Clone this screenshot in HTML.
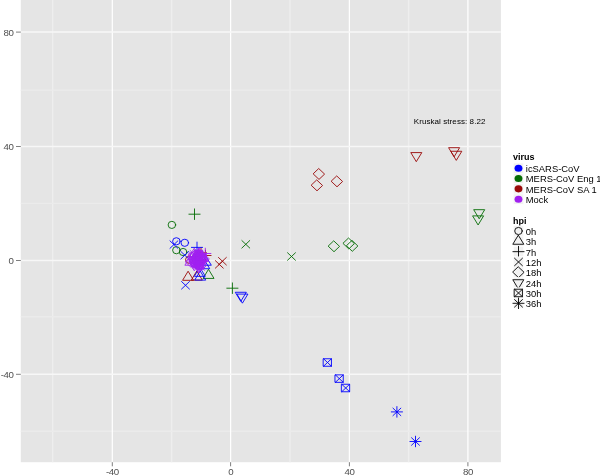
<!DOCTYPE html>
<html><head><meta charset="utf-8"><style>
html,body{margin:0;padding:0;background:#fff;width:600px;height:476px;overflow:hidden}
svg{display:block;filter:blur(0.3px)}
text{font-family:"Liberation Sans",sans-serif}
.ax{font-size:9.7px;fill:#505050;letter-spacing:-0.5px}
.lt{font-size:9px;font-weight:bold;fill:#000}
.lx{font-size:9.9px;fill:#000}
.ks{font-size:8px;fill:#000}
</style></head><body>
<svg width="600" height="476" viewBox="0 0 600 476">
<rect x="20.8" y="0" width="480.1" height="462.2" fill="#E5E5E5"/>
<line x1="52.70" y1="0" x2="52.70" y2="462.2" stroke="#EEEEEE" stroke-width="1.4"/>
<line x1="171.60" y1="0" x2="171.60" y2="462.2" stroke="#EEEEEE" stroke-width="1.4"/>
<line x1="290.00" y1="0" x2="290.00" y2="462.2" stroke="#EEEEEE" stroke-width="1.4"/>
<line x1="408.60" y1="0" x2="408.60" y2="462.2" stroke="#EEEEEE" stroke-width="1.4"/>
<line x1="20.8" y1="90.10" x2="500.9" y2="90.10" stroke="#EBEBEB" stroke-width="1.4"/>
<line x1="20.8" y1="203.40" x2="500.9" y2="203.40" stroke="#EBEBEB" stroke-width="1.4"/>
<line x1="20.8" y1="316.70" x2="500.9" y2="316.70" stroke="#EBEBEB" stroke-width="1.4"/>
<line x1="20.8" y1="431.30" x2="500.9" y2="431.30" stroke="#EBEBEB" stroke-width="1.4"/>
<line x1="112.30" y1="0" x2="112.30" y2="462.2" stroke="#FFFFFF" stroke-width="1.25"/>
<line x1="230.60" y1="0" x2="230.60" y2="462.2" stroke="#FFFFFF" stroke-width="1.25"/>
<line x1="349.40" y1="0" x2="349.40" y2="462.2" stroke="#FFFFFF" stroke-width="1.25"/>
<line x1="467.90" y1="0" x2="467.90" y2="462.2" stroke="#FFFFFF" stroke-width="1.25"/>
<line x1="20.8" y1="32.10" x2="500.9" y2="32.10" stroke="#F7F7F7" stroke-width="1.5"/>
<line x1="20.8" y1="146.50" x2="500.9" y2="146.50" stroke="#F7F7F7" stroke-width="1.5"/>
<line x1="20.8" y1="260.50" x2="500.9" y2="260.50" stroke="#F7F7F7" stroke-width="1.5"/>
<line x1="20.8" y1="374.30" x2="500.9" y2="374.30" stroke="#F7F7F7" stroke-width="1.5"/>
<ellipse cx="171.90" cy="224.90" rx="3.79" ry="3.60" stroke="#046C04" stroke-width="0.9" fill="none" stroke-linecap="round" stroke-linejoin="round"/>
<ellipse cx="176.40" cy="250.20" rx="3.79" ry="3.60" stroke="#046C04" stroke-width="0.9" fill="none" stroke-linecap="round" stroke-linejoin="round"/>
<ellipse cx="183.10" cy="252.00" rx="3.79" ry="3.60" stroke="#046C04" stroke-width="0.9" fill="none" stroke-linecap="round" stroke-linejoin="round"/>
<path d="M188.91,214.20H200.09M194.50,208.89V219.51" stroke="#046C04" stroke-width="0.9" fill="none" stroke-linecap="round" stroke-linejoin="round"/>
<path d="M226.81,288.20H237.99M232.40,282.89V293.51" stroke="#046C04" stroke-width="0.9" fill="none" stroke-linecap="round" stroke-linejoin="round"/>
<path d="M241.85,240.55L249.75,248.05M241.85,248.05L249.75,240.55" stroke="#046C04" stroke-width="0.9" fill="none" stroke-linecap="round" stroke-linejoin="round"/>
<path d="M287.55,252.75L295.45,260.25M287.55,260.25L295.45,252.75" stroke="#046C04" stroke-width="0.9" fill="none" stroke-linecap="round" stroke-linejoin="round"/>
<polygon points="334.00,241.09 339.59,246.40 334.00,251.71 328.41,246.40" stroke="#046C04" stroke-width="0.9" fill="none" stroke-linecap="round" stroke-linejoin="round"/>
<polygon points="348.80,238.29 354.39,243.60 348.80,248.91 343.21,243.60" stroke="#046C04" stroke-width="0.9" fill="none" stroke-linecap="round" stroke-linejoin="round"/>
<polygon points="352.30,240.69 357.89,246.00 352.30,251.31 346.71,246.00" stroke="#046C04" stroke-width="0.9" fill="none" stroke-linecap="round" stroke-linejoin="round"/>
<polygon points="479.40,218.44 484.72,209.68 474.08,209.68" stroke="#046C04" stroke-width="0.9" fill="none" stroke-linecap="round" stroke-linejoin="round"/>
<polygon points="478.30,224.64 483.62,215.88 472.98,215.88" stroke="#046C04" stroke-width="0.9" fill="none" stroke-linecap="round" stroke-linejoin="round"/>
<polygon points="208.70,269.66 214.02,278.42 203.38,278.42" stroke="#046C04" stroke-width="0.9" fill="none" stroke-linecap="round" stroke-linejoin="round"/>
<polygon points="416.50,161.34 421.82,152.58 411.18,152.58" stroke="#9A0808" stroke-width="0.9" fill="none" stroke-linecap="round" stroke-linejoin="round"/>
<polygon points="454.30,156.44 459.62,147.68 448.98,147.68" stroke="#9A0808" stroke-width="0.9" fill="none" stroke-linecap="round" stroke-linejoin="round"/>
<polygon points="456.50,160.04 461.82,151.28 451.18,151.28" stroke="#9A0808" stroke-width="0.9" fill="none" stroke-linecap="round" stroke-linejoin="round"/>
<polygon points="319.00,168.79 324.59,174.10 319.00,179.41 313.41,174.10" stroke="#9A0808" stroke-width="0.9" fill="none" stroke-linecap="round" stroke-linejoin="round"/>
<polygon points="317.00,180.19 322.59,185.50 317.00,190.81 311.41,185.50" stroke="#9A0808" stroke-width="0.9" fill="none" stroke-linecap="round" stroke-linejoin="round"/>
<polygon points="337.00,176.19 342.59,181.50 337.00,186.81 331.41,181.50" stroke="#9A0808" stroke-width="0.9" fill="none" stroke-linecap="round" stroke-linejoin="round"/>
<path d="M218.45,257.45L226.35,264.95M218.45,264.95L226.35,257.45" stroke="#9A0808" stroke-width="0.9" fill="none" stroke-linecap="round" stroke-linejoin="round"/>
<path d="M215.35,260.65L223.25,268.15M215.35,268.15L223.25,260.65" stroke="#9A0808" stroke-width="0.9" fill="none" stroke-linecap="round" stroke-linejoin="round"/>
<polygon points="188.30,271.56 193.62,280.32 182.98,280.32" stroke="#9A0808" stroke-width="0.9" fill="none" stroke-linecap="round" stroke-linejoin="round"/>
<polygon points="197.00,271.36 202.32,280.12 191.68,280.12" stroke="#9A0808" stroke-width="0.9" fill="none" stroke-linecap="round" stroke-linejoin="round"/>
<ellipse cx="189.30" cy="259.80" rx="3.79" ry="3.60" stroke="#9A0808" stroke-width="0.9" fill="none" stroke-linecap="round" stroke-linejoin="round"/>
<path d="M195.41,252.80H206.59M201.00,247.49V258.11" stroke="#9A0808" stroke-width="0.9" fill="none" stroke-linecap="round" stroke-linejoin="round"/>
<path d="M199.91,255.50H211.09M205.50,250.19V260.81" stroke="#9A0808" stroke-width="0.9" fill="none" stroke-linecap="round" stroke-linejoin="round"/>
<ellipse cx="176.40" cy="241.30" rx="3.79" ry="3.60" stroke="#0000FF" stroke-width="0.9" fill="none" stroke-linecap="round" stroke-linejoin="round"/>
<ellipse cx="184.80" cy="242.80" rx="3.79" ry="3.60" stroke="#0000FF" stroke-width="0.9" fill="none" stroke-linecap="round" stroke-linejoin="round"/>
<path d="M169.95,240.85L177.85,248.35M169.95,248.35L177.85,240.85" stroke="#0000FF" stroke-width="0.9" fill="none" stroke-linecap="round" stroke-linejoin="round"/>
<path d="M180.85,251.45L188.75,258.95M180.85,258.95L188.75,251.45" stroke="#0000FF" stroke-width="0.9" fill="none" stroke-linecap="round" stroke-linejoin="round"/>
<path d="M181.55,281.55L189.45,289.05M181.55,289.05L189.45,281.55" stroke="#0000FF" stroke-width="0.9" fill="none" stroke-linecap="round" stroke-linejoin="round"/>
<path d="M191.41,247.40H202.59M197.00,242.09V252.71" stroke="#0000FF" stroke-width="0.9" fill="none" stroke-linecap="round" stroke-linejoin="round"/>
<polygon points="200.40,271.36 205.72,280.12 195.08,280.12" stroke="#0000FF" stroke-width="0.9" fill="none" stroke-linecap="round" stroke-linejoin="round"/>
<polygon points="200.00,267.56 205.32,276.32 194.68,276.32" stroke="#0000FF" stroke-width="0.9" fill="none" stroke-linecap="round" stroke-linejoin="round"/>
<polygon points="206.00,256.46 211.32,265.22 200.68,265.22" stroke="#0000FF" stroke-width="0.9" fill="none" stroke-linecap="round" stroke-linejoin="round"/>
<polygon points="204.40,259.96 209.72,268.72 199.08,268.72" stroke="#0000FF" stroke-width="0.9" fill="none" stroke-linecap="round" stroke-linejoin="round"/>
<polygon points="241.00,301.04 246.32,292.28 235.68,292.28" stroke="#0000FF" stroke-width="0.9" fill="none" stroke-linecap="round" stroke-linejoin="round"/>
<polygon points="242.60,302.84 247.92,294.08 237.28,294.08" stroke="#0000FF" stroke-width="0.9" fill="none" stroke-linecap="round" stroke-linejoin="round"/>
<rect x="323.55" y="358.75" width="7.90" height="7.50" stroke="#0000FF" stroke-width="0.9" fill="none" stroke-linecap="round" stroke-linejoin="round"/><path d="M323.55,358.75L331.45,366.25M323.55,366.25L331.45,358.75" stroke="#0000FF" stroke-width="0.9" fill="none" stroke-linecap="round" stroke-linejoin="round"/>
<rect x="335.35" y="374.85" width="7.90" height="7.50" stroke="#0000FF" stroke-width="0.9" fill="none" stroke-linecap="round" stroke-linejoin="round"/><path d="M335.35,374.85L343.25,382.35M335.35,382.35L343.25,374.85" stroke="#0000FF" stroke-width="0.9" fill="none" stroke-linecap="round" stroke-linejoin="round"/>
<rect x="341.75" y="384.25" width="7.90" height="7.50" stroke="#0000FF" stroke-width="0.9" fill="none" stroke-linecap="round" stroke-linejoin="round"/><path d="M341.75,384.25L349.65,391.75M341.75,391.75L349.65,384.25" stroke="#0000FF" stroke-width="0.9" fill="none" stroke-linecap="round" stroke-linejoin="round"/>
<path d="M392.95,408.15L400.85,415.65M392.95,415.65L400.85,408.15M391.31,411.90H402.49M396.90,406.59V417.21" stroke="#0000FF" stroke-width="0.9" fill="none" stroke-linecap="round" stroke-linejoin="round"/>
<path d="M411.55,437.75L419.45,445.25M411.55,445.25L419.45,437.75M409.91,441.50H421.09M415.50,436.19V446.81" stroke="#0000FF" stroke-width="0.9" fill="none" stroke-linecap="round" stroke-linejoin="round"/>
<ellipse cx="197" cy="259.8" rx="6" ry="6.5" fill="#A020F0" opacity="0.7"/>
<ellipse cx="193.44" cy="259.81" rx="3.79" ry="3.60" stroke="#A020F0" stroke-width="0.9" fill="none" stroke-linecap="round" stroke-linejoin="round"/>
<polygon points="195.23,254.67 200.55,263.42 189.91,263.42" stroke="#A020F0" stroke-width="0.9" fill="none" stroke-linecap="round" stroke-linejoin="round"/>
<path d="M193.12,254.26H204.30M198.71,248.95V259.57" stroke="#A020F0" stroke-width="0.9" fill="none" stroke-linecap="round" stroke-linejoin="round"/>
<path d="M189.78,252.47L197.68,259.97M189.78,259.97L197.68,252.47" stroke="#A020F0" stroke-width="0.9" fill="none" stroke-linecap="round" stroke-linejoin="round"/>
<polygon points="203.74,253.65 209.33,258.96 203.74,264.26 198.15,258.96" stroke="#A020F0" stroke-width="0.9" fill="none" stroke-linecap="round" stroke-linejoin="round"/>
<polygon points="201.58,264.86 206.90,256.11 196.26,256.11" stroke="#A020F0" stroke-width="0.9" fill="none" stroke-linecap="round" stroke-linejoin="round"/>
<rect x="194.94" y="251.49" width="7.90" height="7.50" stroke="#A020F0" stroke-width="0.9" fill="none" stroke-linecap="round" stroke-linejoin="round"/><path d="M194.94,251.49L202.84,259.00M194.94,259.00L202.84,251.49" stroke="#A020F0" stroke-width="0.9" fill="none" stroke-linecap="round" stroke-linejoin="round"/>
<path d="M194.88,259.82L202.78,267.32M194.88,267.32L202.78,259.82M193.25,263.57H204.42M198.83,258.26V268.88" stroke="#A020F0" stroke-width="0.9" fill="none" stroke-linecap="round" stroke-linejoin="round"/>
<ellipse cx="197.32" cy="262.10" rx="3.79" ry="3.60" stroke="#A020F0" stroke-width="0.9" fill="none" stroke-linecap="round" stroke-linejoin="round"/>
<polygon points="199.33,248.41 204.65,257.16 194.01,257.16" stroke="#A020F0" stroke-width="0.9" fill="none" stroke-linecap="round" stroke-linejoin="round"/>
<path d="M194.93,260.36H206.10M200.51,255.05V265.66" stroke="#A020F0" stroke-width="0.9" fill="none" stroke-linecap="round" stroke-linejoin="round"/>
<path d="M198.02,255.23L205.92,262.74M198.02,262.74L205.92,255.23" stroke="#A020F0" stroke-width="0.9" fill="none" stroke-linecap="round" stroke-linejoin="round"/>
<polygon points="199.98,258.39 205.56,263.69 199.98,269.00 194.39,263.69" stroke="#A020F0" stroke-width="0.9" fill="none" stroke-linecap="round" stroke-linejoin="round"/>
<polygon points="199.91,270.02 205.23,261.27 194.59,261.27" stroke="#A020F0" stroke-width="0.9" fill="none" stroke-linecap="round" stroke-linejoin="round"/>
<rect x="191.62" y="259.04" width="7.90" height="7.50" stroke="#A020F0" stroke-width="0.9" fill="none" stroke-linecap="round" stroke-linejoin="round"/><path d="M191.62,259.04L199.52,266.54M191.62,266.54L199.52,259.04" stroke="#A020F0" stroke-width="0.9" fill="none" stroke-linecap="round" stroke-linejoin="round"/>
<path d="M192.30,260.60L200.20,268.11M192.30,268.11L200.20,260.60M190.66,264.35H201.83M196.25,259.05V269.66" stroke="#A020F0" stroke-width="0.9" fill="none" stroke-linecap="round" stroke-linejoin="round"/>
<ellipse cx="192.05" cy="256.02" rx="3.79" ry="3.60" stroke="#A020F0" stroke-width="0.9" fill="none" stroke-linecap="round" stroke-linejoin="round"/>
<polygon points="203.33,252.72 208.65,261.48 198.01,261.48" stroke="#A020F0" stroke-width="0.9" fill="none" stroke-linecap="round" stroke-linejoin="round"/>
<path d="M193.14,256.99H204.31M198.72,251.69V262.30" stroke="#A020F0" stroke-width="0.9" fill="none" stroke-linecap="round" stroke-linejoin="round"/>
<path d="M193.15,254.22L201.05,261.73M193.15,261.73L201.05,254.22" stroke="#A020F0" stroke-width="0.9" fill="none" stroke-linecap="round" stroke-linejoin="round"/>
<polygon points="194.97,254.98 200.56,260.29 194.97,265.59 189.39,260.29" stroke="#A020F0" stroke-width="0.9" fill="none" stroke-linecap="round" stroke-linejoin="round"/>
<polygon points="198.15,269.82 203.47,261.07 192.83,261.07" stroke="#A020F0" stroke-width="0.9" fill="none" stroke-linecap="round" stroke-linejoin="round"/>
<rect x="195.52" y="260.52" width="7.90" height="7.50" stroke="#A020F0" stroke-width="0.9" fill="none" stroke-linecap="round" stroke-linejoin="round"/><path d="M195.52,260.52L203.42,268.03M195.52,268.03L203.42,260.52" stroke="#A020F0" stroke-width="0.9" fill="none" stroke-linecap="round" stroke-linejoin="round"/>
<path d="M195.38,251.64L203.28,259.14M195.38,259.14L203.28,251.64M193.74,255.39H204.92M199.33,250.09V260.70" stroke="#A020F0" stroke-width="0.9" fill="none" stroke-linecap="round" stroke-linejoin="round"/>
<ellipse cx="202.50" cy="260.10" rx="3.79" ry="3.60" stroke="#A020F0" stroke-width="0.9" fill="none" stroke-linecap="round" stroke-linejoin="round"/>
<polygon points="199.91,250.11 205.23,258.87 194.59,258.87" stroke="#A020F0" stroke-width="0.9" fill="none" stroke-linecap="round" stroke-linejoin="round"/>
<path d="M195.92,260.15H207.10M201.51,254.85V265.46" stroke="#A020F0" stroke-width="0.9" fill="none" stroke-linecap="round" stroke-linejoin="round"/>
<path d="M190.13,250.48L198.03,257.99M190.13,257.99L198.03,250.48" stroke="#A020F0" stroke-width="0.9" fill="none" stroke-linecap="round" stroke-linejoin="round"/>
<polygon points="195.78,249.94 201.37,255.25 195.78,260.56 190.20,255.25" stroke="#A020F0" stroke-width="0.9" fill="none" stroke-linecap="round" stroke-linejoin="round"/>
<polygon points="194.20,268.25 199.52,259.50 188.88,259.50" stroke="#A020F0" stroke-width="0.9" fill="none" stroke-linecap="round" stroke-linejoin="round"/>
<rect x="194.61" y="250.27" width="7.90" height="7.50" stroke="#A020F0" stroke-width="0.9" fill="none" stroke-linecap="round" stroke-linejoin="round"/><path d="M194.61,250.27L202.51,257.77M194.61,257.77L202.51,250.27" stroke="#A020F0" stroke-width="0.9" fill="none" stroke-linecap="round" stroke-linejoin="round"/>
<path d="M196.02,253.59L203.92,261.09M196.02,261.09L203.92,253.59M194.38,257.34H205.56M199.97,252.03V262.65" stroke="#A020F0" stroke-width="0.9" fill="none" stroke-linecap="round" stroke-linejoin="round"/>
<ellipse cx="197.07" cy="265.08" rx="3.79" ry="3.60" stroke="#A020F0" stroke-width="0.9" fill="none" stroke-linecap="round" stroke-linejoin="round"/>
<polygon points="194.41,248.56 199.73,257.31 189.09,257.31" stroke="#A020F0" stroke-width="0.9" fill="none" stroke-linecap="round" stroke-linejoin="round"/>
<path d="M192.77,253.86H203.94M198.36,248.56V259.17" stroke="#A020F0" stroke-width="0.9" fill="none" stroke-linecap="round" stroke-linejoin="round"/>
<path d="M188.93,254.48L196.83,261.98M188.93,261.98L196.83,254.48" stroke="#A020F0" stroke-width="0.9" fill="none" stroke-linecap="round" stroke-linejoin="round"/>
<polygon points="198.50,250.01 204.09,255.31 198.50,260.62 192.92,255.31" stroke="#A020F0" stroke-width="0.9" fill="none" stroke-linecap="round" stroke-linejoin="round"/>
<polygon points="194.47,270.46 199.79,261.70 189.15,261.70" stroke="#A020F0" stroke-width="0.9" fill="none" stroke-linecap="round" stroke-linejoin="round"/>
<rect x="198.44" y="254.13" width="7.90" height="7.50" stroke="#A020F0" stroke-width="0.9" fill="none" stroke-linecap="round" stroke-linejoin="round"/><path d="M198.44,254.13L206.34,261.63M198.44,261.63L206.34,254.13" stroke="#A020F0" stroke-width="0.9" fill="none" stroke-linecap="round" stroke-linejoin="round"/>
<path d="M192.51,255.78L200.41,263.29M192.51,263.29L200.41,255.78M190.88,259.53H202.05M196.46,254.23V264.84" stroke="#A020F0" stroke-width="0.9" fill="none" stroke-linecap="round" stroke-linejoin="round"/>
<path d="M199.71,253.50H210.89M205.30,248.19V258.81" stroke="#A020F0" stroke-width="0.9" fill="none" stroke-linecap="round" stroke-linejoin="round"/>
<polygon points="190.60,256.46 195.92,265.22 185.28,265.22" stroke="#A020F0" stroke-width="0.9" fill="none" stroke-linecap="round" stroke-linejoin="round"/>
<polygon points="191.00,256.69 196.59,262.00 191.00,267.31 185.41,262.00" stroke="#A020F0" stroke-width="0.9" fill="none" stroke-linecap="round" stroke-linejoin="round"/>
<ellipse cx="199.50" cy="266.00" rx="3.79" ry="3.60" stroke="#A020F0" stroke-width="0.9" fill="none" stroke-linecap="round" stroke-linejoin="round"/>
<path d="M196.55,262.75L204.45,270.25M196.55,270.25L204.45,262.75" stroke="#A020F0" stroke-width="0.9" fill="none" stroke-linecap="round" stroke-linejoin="round"/>
<polygon points="199.00,272.34 204.32,263.58 193.68,263.58" stroke="#A020F0" stroke-width="0.9" fill="none" stroke-linecap="round" stroke-linejoin="round"/>
<polygon points="201.00,260.19 206.59,265.50 201.00,270.81 195.41,265.50" stroke="#A020F0" stroke-width="0.9" fill="none" stroke-linecap="round" stroke-linejoin="round"/>
<path d="M193.41,267.00H204.59M199.00,261.69V272.31" stroke="#A020F0" stroke-width="0.9" fill="none" stroke-linecap="round" stroke-linejoin="round"/>
<text x="413.8" y="124.3" class="ks" textLength="71.6">Kruskal stress: 8.22</text>
<line x1="16" y1="374.30" x2="20.8" y2="374.30" stroke="#7F7F7F" stroke-width="1"/>
<text x="13.3" y="377.90" text-anchor="end" class="ax">-40</text>
<line x1="112.30" y1="462.2" x2="112.30" y2="466.3" stroke="#7F7F7F" stroke-width="1"/>
<text x="112.30" y="474.6" text-anchor="middle" class="ax">-40</text>
<line x1="16" y1="260.50" x2="20.8" y2="260.50" stroke="#7F7F7F" stroke-width="1"/>
<text x="13.3" y="264.10" text-anchor="end" class="ax">0</text>
<line x1="230.60" y1="462.2" x2="230.60" y2="466.3" stroke="#7F7F7F" stroke-width="1"/>
<text x="230.60" y="474.6" text-anchor="middle" class="ax">0</text>
<line x1="16" y1="146.50" x2="20.8" y2="146.50" stroke="#7F7F7F" stroke-width="1"/>
<text x="13.3" y="150.10" text-anchor="end" class="ax">40</text>
<line x1="349.40" y1="462.2" x2="349.40" y2="466.3" stroke="#7F7F7F" stroke-width="1"/>
<text x="349.40" y="474.6" text-anchor="middle" class="ax">40</text>
<line x1="16" y1="32.10" x2="20.8" y2="32.10" stroke="#7F7F7F" stroke-width="1"/>
<text x="13.3" y="35.70" text-anchor="end" class="ax">80</text>
<line x1="467.90" y1="462.2" x2="467.90" y2="466.3" stroke="#7F7F7F" stroke-width="1"/>
<text x="467.90" y="474.6" text-anchor="middle" class="ax">80</text>
<text x="513" y="160.2" class="lt">virus</text>
<rect x="513.3" y="163.03" width="10.33" height="10.33" fill="#F2F2F2" stroke="#FFFFFF" stroke-width="0.6"/>
<ellipse cx="518.50" cy="168.20" rx="3.95" ry="3.56" fill="#0000FF"/>
<text transform="translate(525.8,172.10) scale(0.95,1)" class="lx">icSARS-CoV</text>
<rect x="513.3" y="173.36" width="10.33" height="10.33" fill="#F2F2F2" stroke="#FFFFFF" stroke-width="0.6"/>
<ellipse cx="518.50" cy="178.53" rx="3.95" ry="3.56" fill="#046C04"/>
<text transform="translate(525.8,182.43) scale(0.95,1)" class="lx">MERS-CoV Eng 1</text>
<rect x="513.3" y="183.69" width="10.33" height="10.33" fill="#F2F2F2" stroke="#FFFFFF" stroke-width="0.6"/>
<ellipse cx="518.50" cy="188.86" rx="3.95" ry="3.56" fill="#9A0808"/>
<text transform="translate(525.8,192.76) scale(0.95,1)" class="lx">MERS-CoV SA 1</text>
<rect x="513.3" y="194.02" width="10.33" height="10.33" fill="#F2F2F2" stroke="#FFFFFF" stroke-width="0.6"/>
<ellipse cx="518.50" cy="199.19" rx="3.95" ry="3.56" fill="#A020F0"/>
<text transform="translate(525.8,203.09) scale(0.95,1)" class="lx">Mock</text>
<text x="513" y="223.6" class="lt">hpi</text>
<rect x="513.3" y="225.83" width="10.33" height="10.33" fill="#F2F2F2" stroke="#FFFFFF" stroke-width="0.6"/>
<ellipse cx="518.50" cy="231.00" rx="3.79" ry="3.60" stroke="#000000" stroke-width="0.9" fill="none" stroke-linecap="round" stroke-linejoin="round"/>
<text transform="translate(525.8,235.00) scale(0.95,1)" class="lx">0h</text>
<rect x="513.3" y="236.16" width="10.33" height="10.33" fill="#F2F2F2" stroke="#FFFFFF" stroke-width="0.6"/>
<polygon points="518.50,235.49 523.82,244.25 513.18,244.25" stroke="#000000" stroke-width="0.9" fill="none" stroke-linecap="round" stroke-linejoin="round"/>
<text transform="translate(525.8,245.33) scale(0.95,1)" class="lx">3h</text>
<rect x="513.3" y="246.49" width="10.33" height="10.33" fill="#F2F2F2" stroke="#FFFFFF" stroke-width="0.6"/>
<path d="M512.91,251.66H524.09M518.50,246.35V256.97" stroke="#000000" stroke-width="0.9" fill="none" stroke-linecap="round" stroke-linejoin="round"/>
<text transform="translate(525.8,255.66) scale(0.95,1)" class="lx">7h</text>
<rect x="513.3" y="256.82" width="10.33" height="10.33" fill="#F2F2F2" stroke="#FFFFFF" stroke-width="0.6"/>
<path d="M514.55,258.24L522.45,265.74M514.55,265.74L522.45,258.24" stroke="#000000" stroke-width="0.9" fill="none" stroke-linecap="round" stroke-linejoin="round"/>
<text transform="translate(525.8,265.99) scale(0.95,1)" class="lx">12h</text>
<rect x="513.3" y="267.15" width="10.33" height="10.33" fill="#F2F2F2" stroke="#FFFFFF" stroke-width="0.6"/>
<polygon points="518.50,267.01 524.09,272.32 518.50,277.63 512.91,272.32" stroke="#000000" stroke-width="0.9" fill="none" stroke-linecap="round" stroke-linejoin="round"/>
<text transform="translate(525.8,276.32) scale(0.95,1)" class="lx">18h</text>
<rect x="513.3" y="277.48" width="10.33" height="10.33" fill="#F2F2F2" stroke="#FFFFFF" stroke-width="0.6"/>
<polygon points="518.50,288.49 523.82,279.73 513.18,279.73" stroke="#000000" stroke-width="0.9" fill="none" stroke-linecap="round" stroke-linejoin="round"/>
<text transform="translate(525.8,286.65) scale(0.95,1)" class="lx">24h</text>
<rect x="513.3" y="287.81" width="10.33" height="10.33" fill="#F2F2F2" stroke="#FFFFFF" stroke-width="0.6"/>
<rect x="514.55" y="289.23" width="7.90" height="7.50" stroke="#000000" stroke-width="0.9" fill="none" stroke-linecap="round" stroke-linejoin="round"/><path d="M514.55,289.23L522.45,296.73M514.55,296.73L522.45,289.23" stroke="#000000" stroke-width="0.9" fill="none" stroke-linecap="round" stroke-linejoin="round"/>
<text transform="translate(525.8,296.98) scale(0.95,1)" class="lx">30h</text>
<rect x="513.3" y="298.14" width="10.33" height="10.33" fill="#F2F2F2" stroke="#FFFFFF" stroke-width="0.6"/>
<path d="M514.55,299.56L522.45,307.06M514.55,307.06L522.45,299.56M512.91,303.31H524.09M518.50,298.00V308.62" stroke="#000000" stroke-width="0.9" fill="none" stroke-linecap="round" stroke-linejoin="round"/>
<text transform="translate(525.8,307.31) scale(0.95,1)" class="lx">36h</text>
</svg>
</body></html>
